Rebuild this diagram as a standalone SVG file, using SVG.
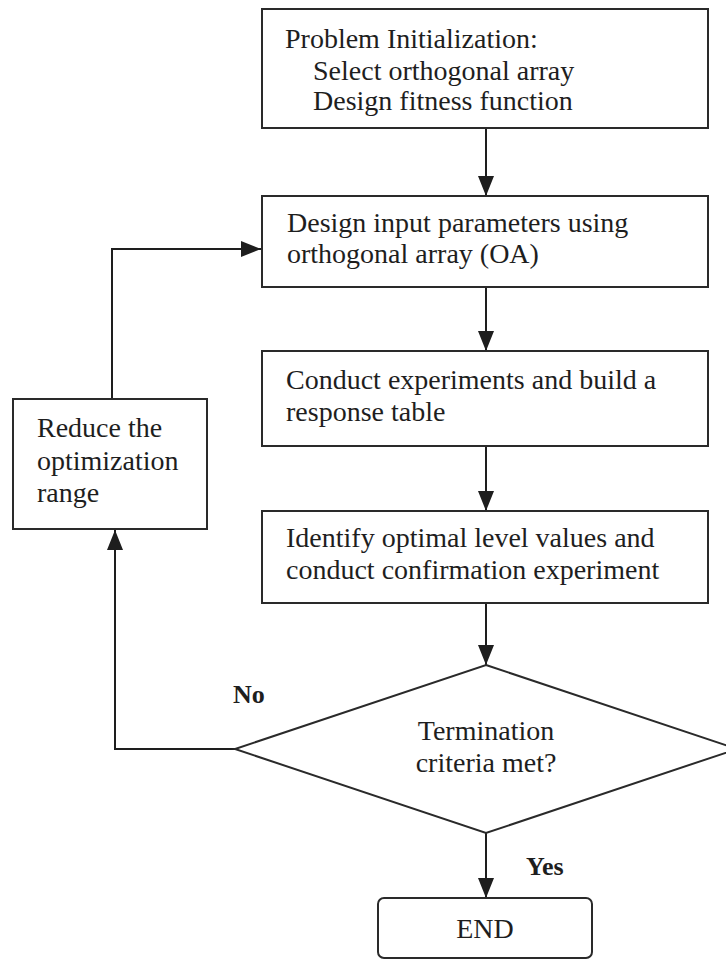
<svg xmlns="http://www.w3.org/2000/svg" width="726" height="960" viewBox="0 0 726 960">
<defs>
<marker id="ah" markerUnits="userSpaceOnUse" markerWidth="20" markerHeight="16" refX="20" refY="8" orient="auto">
<path d="M0,0 L20,8 L0,16 z" fill="#1e1e1e"/>
</marker>
<style>
.box{fill:#fff;stroke:#2a2a2a;stroke-width:2}
.t{font-family:"Liberation Serif","Times New Roman",serif;font-size:28px;fill:#1e1e1e}
.b{font-family:"Liberation Serif","Times New Roman",serif;font-size:26px;font-weight:bold;fill:#1e1e1e}
.c{fill:none;stroke:#1e1e1e;stroke-width:2}
</style>
</defs>
<rect width="726" height="960" fill="#fff"/>
<g id="connectors">
<line class="c" x1="486" y1="128" x2="486" y2="196" marker-end="url(#ah)"/>
<line class="c" x1="486" y1="287" x2="486" y2="351" marker-end="url(#ah)"/>
<line class="c" x1="486" y1="446" x2="486" y2="511" marker-end="url(#ah)"/>
<line class="c" x1="486" y1="603" x2="486" y2="665" marker-end="url(#ah)"/>
<line class="c" x1="486" y1="833" x2="486" y2="898" marker-end="url(#ah)"/>
<polyline class="c" points="235,749 115,749 115,530" marker-end="url(#ah)"/>
<polyline class="c" points="112,399 112,249 261,249" marker-end="url(#ah)"/>
<text class="b" x="233" y="703">No</text>
<text class="b" x="526" y="875">Yes</text>
</g>
<g id="init">
<rect class="box" x="262" y="9" width="446" height="119"/>
<text class="t" x="285" y="48">Problem Initialization:</text>
<text class="t" x="313" y="80">Select orthogonal array</text>
<text class="t" x="313" y="110">Design fitness function</text>
</g>
<g id="design">
<rect class="box" x="262" y="196" width="446" height="91"/>
<text class="t" x="287" y="232">Design input parameters using</text>
<text class="t" x="287" y="263">orthogonal array (OA)</text>
</g>
<g id="conduct">
<rect class="box" x="262" y="351" width="446" height="95"/>
<text class="t" x="286" y="389">Conduct experiments and build a</text>
<text class="t" x="286" y="421">response table</text>
</g>
<g id="identify">
<rect class="box" x="262" y="511" width="446" height="92"/>
<text class="t" x="286" y="547">Identify optimal level values and</text>
<text class="t" x="286" y="579">conduct confirmation experiment</text>
</g>
<g id="decision">
<polygon class="box" points="486,665 737,749 486,833 235,749"/>
<text class="t" x="486" y="740" text-anchor="middle">Termination</text>
<text class="t" x="486" y="772" text-anchor="middle">criteria met?</text>
</g>
<g id="reduce">
<rect class="box" x="13" y="399" width="194" height="130"/>
<text class="t" x="37" y="437">Reduce the</text>
<text class="t" x="37" y="470">optimization</text>
<text class="t" x="37" y="502">range</text>
</g>
<g id="end">
<rect class="box" x="378" y="898" width="214" height="60" rx="6"/>
<text class="t" x="485" y="938" text-anchor="middle">END</text>
</g>
</svg>
